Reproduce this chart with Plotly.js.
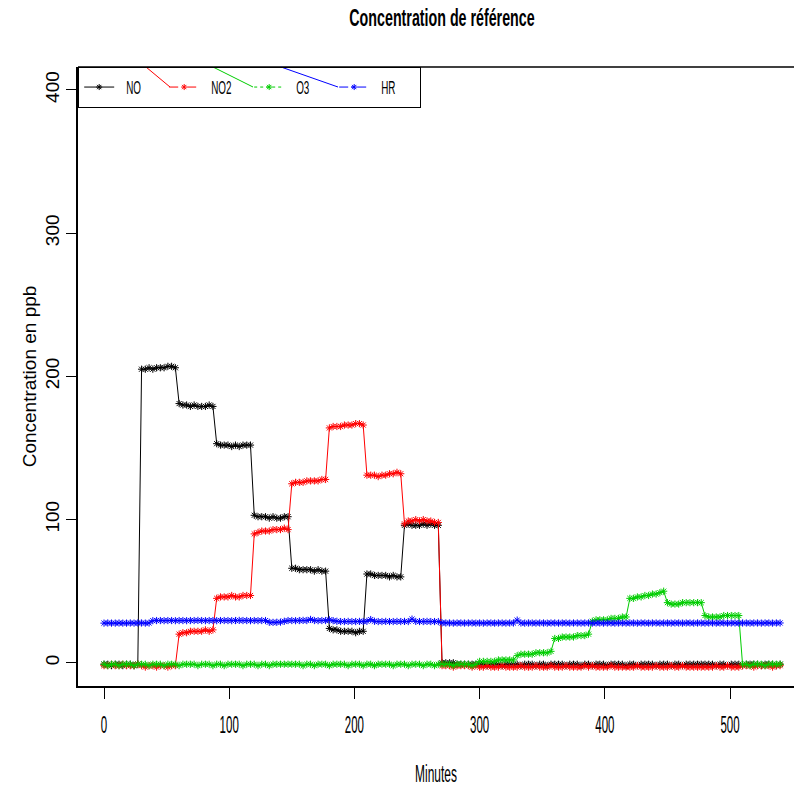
<!DOCTYPE html>
<html>
<head>
<meta charset="utf-8">
<script src="https://cdn.plot.ly/plotly-3.0.1.min.js"></script>
<style>
  html, body { margin: 0; padding: 0; background: #ffffff; }
  #chart { width: 794px; height: 788px; }
</style>
</head>
<body>
<div id="chart"></div>
<script>
// Sampling times (minutes)
const minutes = [
  0,3,6,9,12,15,18,21,24,27, 30,33,36,39,42,45,48,51,54,57,
  60,63,66,69,72,75,78,81,84,87, 90,93,96,99,102,105,108,111,114,117,
  120,123,126,129,132,135,138,141,144,147, 150,153,156,159,162,165,168,171,174,177,
  180,183,186,189,192,195,198,201,204,207, 210,213,216,219,222,225,228,231,234,237,
  240,243,246,249,252,255,258,261,264,267, 270,273,276,279,282,285,288,291,294,297,
  300,303,306,309,312,315,318,321,324,327, 330,333,336,339,342,345,348,351,354,357,
  360,363,366,369,372,375,378,381,384,387, 390,393,396,399,402,405,408,411,414,417,
  420,423,426,429,432,435,438,441,444,447, 450,453,456,459,462,465,468,471,474,477,
  480,483,486,489,492,495,498,501,504,507, 510,513,516,519,522,525,528,531,534,537,
  540
];

const NO = [
  -1,-1,-2,-1,-1,-2,-1,-1,-2,-1,
  205,205,206,205,206,206,206,207,207,206,
  181,180,180,179,180,179,179,179,180,179,
  153,152,152,152,151,152,151,152,152,152,
  103,102,102,102,101,102,101,101,102,102,
  66,66,65,65,65,65,64,65,64,64,
  24,23,23,22,22,22,22,21,22,22,
  62,62,61,61,61,61,60,61,60,60,
  96,97,96,96,96,97,96,97,96,96,
  0,0,0,0,-1,-1,-1,-1,-1,-1,
  -1,-1,-2,-1,-1,-1,-2,-1,-1,-1,
  -1,-2,-1,-1,-1,-2,-1,-1,-2,-1,
  -1,-1,-1,-2,-1,-1,-1,-2,-1,-1,
  -2,-1,-1,-1,-2,-1,-1,-1,-1,-2,
  -1,-1,-2,-1,-1,-1,-1,-2,-1,-1,
  -1,-2,-1,-1,-2,-1,-1,-1,-1,-1,
  -1,-1,-1,-2,-1,-1,-2,-1,-1,-1,
  -2,-1,-1,-1,-1,-2,-1,-1,-1,-2,
  -1
];

const NO2 = [
  -2,-2,-1,-2,-2,-1,-2,-2,-2,-1,
  -2,-3,-2,-2,-3,-2,-2,-3,-2,-2,
  20,21,21,22,22,22,22,23,22,23,
  45,46,46,46,47,46,46,47,47,47,
  90,91,92,92,92,93,93,93,94,93,
  125,126,126,126,127,127,127,127,128,128,
  164,165,165,165,166,166,166,167,167,166,
  131,131,131,130,131,131,132,132,133,132,
  97,99,99,100,99,100,99,99,98,98,
  -2,-2,-2,-3,-2,-2,-2,-2,-3,-2,
  -3,-3,-2,-3,-3,-3,-2,-3,-3,-3,
  -3,-2,-3,-3,-3,-2,-3,-3,-3,-2,
  -3,-3,-3,-2,-3,-3,-3,-3,-2,-3,
  -2,-3,-3,-3,-3,-2,-3,-3,-3,-3,
  -3,-3,-2,-3,-3,-3,-3,-2,-3,-3,
  -3,-2,-3,-3,-2,-3,-3,-3,-3,-3,
  -3,-3,-3,-2,-3,-3,-2,-3,-3,-3,
  -2,-2,-2,-3,-2,-2,-2,-2,-3,-2,
  -2
];

const O3 = [
  -1,-2,-1,-1,-2,-1,-1,-1,-2,-1,
  -1,-1,-2,-1,-1,-1,-2,-1,-1,-1,
  -2,-1,-1,-1,-1,-2,-1,-1,-1,-2,
  -1,-1,-2,-1,-1,-1,-1,-2,-1,-1,
  -1,-2,-1,-1,-2,-1,-1,-1,-1,-1,
  -1,-1,-1,-2,-1,-1,-2,-1,-1,-1,
  -2,-1,-1,-1,-1,-2,-1,-1,-1,-2,
  -1,-1,-2,-1,-1,-1,-1,-2,-1,-1,
  -1,-2,-1,-1,-1,-2,-1,-1,-2,-1,
  -1,-1,-1,-2,-1,-1,-1,-1,-2,-1,
  1,1,1,1,1,2,2,2,2,2,
  5,6,6,6,6,7,7,7,7,8,
  17,17,18,18,18,18,19,19,19,20,
  29,30,30,30,30,31,31,31,32,32,
  45,45,46,46,47,47,48,48,49,50,
  42,41,41,41,42,42,42,42,42,42,
  33,32,32,32,32,33,33,33,33,33,
  -1,-1,-2,-1,-1,-1,-2,-1,-1,-1,
  -1
];

const HR = [
  27.7,27.8,27.7,27.7,27.8,27.7,27.7,27.8,27.7,27.8,
  27.8,27.7,27.8,29.4,29.5,29.5,29.4,29.5,29.5,29.4,
  29.5,29.5,29.4,29.5,29.5,29.6,29.5,29.4,29.5,29.5,
  29.4,29.5,29.5,29.5,29.4,29.5,29.6,29.5,29.5,29.4,
  29.5,29.4,29.5,29.5,28.3,28.2,28.3,28.4,29.0,29.5,
  29.5,29.4,29.5,29.6,29.5,30.3,29.5,29.4,29.5,29.5,
  30.0,29.4,29.0,28.8,28.8,28.9,28.8,28.8,28.9,28.8,
  29.0,30.2,29.0,28.8,28.8,28.9,28.8,28.8,28.9,28.8,
  28.9,28.8,30.5,28.9,28.8,28.8,28.9,28.8,28.8,28.8,
  27.9,27.8,27.8,27.7,27.8,27.8,27.7,27.8,27.8,27.7,
  27.8,27.7,27.8,27.8,27.7,27.8,27.8,27.7,27.8,27.8,
  29.8,27.8,27.7,27.8,27.8,27.7,27.8,27.8,27.7,27.8,
  27.8,27.7,27.8,27.8,27.7,27.8,27.8,27.7,27.8,27.8,
  27.7,27.8,27.8,27.7,27.8,27.8,27.7,27.8,27.8,27.7,
  27.8,27.8,27.7,27.8,27.8,27.7,27.8,27.8,27.7,27.8,
  27.8,27.7,27.8,27.8,27.7,27.8,27.8,27.7,27.8,27.8,
  27.7,27.8,27.8,27.7,27.8,27.8,27.7,27.8,27.8,27.7,
  27.8,27.8,27.7,27.8,27.8,27.7,27.8,27.8,27.7,27.8,
  27.8
];

const seriesNames = ['NO', 'NO2', 'O3', 'HR'];
const seriesValues = [NO, NO2, O3, HR];
const seriesColors = ['#000000', '#ff0000', '#00cd00', '#0000ff'];
const legendDash = ['solid', 'dash', 'dot', 'dashdot'];

const xTicks = [0, 100, 200, 300, 400, 500];
const yTicks = [0, 100, 200, 300, 400];

const regular = '"Liberation Sans", Arial, sans-serif';

// Data traces: drawn with solid lines (as in the reference plot), not in legend
const dataTraces = seriesNames.map((name, i) => ({
  type: 'scatter',
  mode: 'lines+markers',
  name: name,
  legendgroup: name,
  showlegend: false,
  x: minutes,
  y: seriesValues[i],
  line: { color: seriesColors[i], width: 1 },
  marker: { color: seriesColors[i], symbol: 'asterisk-open', size: 6,
            line: { color: seriesColors[i], width: 1 } }
}));

// Legend entries: same series, shown with their legend line styles
const legendTraces = seriesNames.map((name, i) => ({
  type: 'scatter',
  mode: 'lines+markers',
  name: name,
  legendgroup: name,
  showlegend: true,
  x: [null],
  y: [null],
  line: { color: seriesColors[i], width: 1, dash: legendDash[i] },
  marker: { color: seriesColors[i], symbol: 'asterisk-open', size: 5,
            line: { color: seriesColors[i], width: 1 } }
}));

function px2x(p) { return (p - 78) / 716; }
function px2y(p) { return (686 - p) / 619; }

const artifactLines = [
  { c: '#ff0000', x0: 146, x1: 170 },
  { c: '#00cd00', x0: 213, x1: 253 },
  { c: '#0000ff', x0: 281, x1: 338 }
].map(d => ({
  type: 'line', xref: 'paper', yref: 'paper',
  x0: px2x(d.x0), y0: 1, x1: px2x(d.x1), y1: px2y(87),
  line: { color: d.c, width: 1 }, layer: 'above'
}));

const layout = {
  width: 794,
  height: 788,
  margin: { l: 78, r: 0, t: 67, b: 102, pad: 0 },
  paper_bgcolor: '#ffffff',
  plot_bgcolor: '#ffffff',
  showlegend: true,
  title: {
    text: 'Concentration de référence',
    font: { family: regular, size: 23, color: '#000000', weight: 'bold' },
    x: 442 / 794, xref: 'container', xanchor: 'center',
    y: 1 - 18 / 788, yref: 'container', yanchor: 'middle'
  },
  xaxis: {
    range: [-20.77, 551.1],
    tickmode: 'array', tickvals: xTicks, ticktext: xTicks.map(String),
    ticks: 'outside', ticklen: 11, tickwidth: 1, tickcolor: '#000000',
    showgrid: false, zeroline: false,
    showline: true, linecolor: '#000000', linewidth: 1.7, mirror: false,
    tickfont: { family: regular, size: 23, color: '#000000' },
    ticklabelstandoff: 7,
    title: { text: 'Minutes', font: { family: regular, size: 23, color: '#000000' }, standoff: 28 },
    automargin: false
  },
  yaxis: {
    range: [-16.2, 416],
    tickmode: 'array', tickvals: yTicks, ticktext: yTicks.map(String),
    ticks: 'outside', ticklen: 10, tickwidth: 1, tickcolor: '#000000',
    tickangle: -90,
    showgrid: false, zeroline: false,
    showline: true, linecolor: '#000000', linewidth: 1.7, mirror: false,
    tickfont: { family: regular, size: 19, color: '#000000' },
    ticklabelstandoff: 0,
    title: { text: 'Concentration en ppb', font: { family: regular, size: 19, color: '#000000' }, standoff: 0 },
    automargin: false
  },
  legend: {
    orientation: 'h',
    x: 0, y: 1, xref: 'paper', yref: 'paper', xanchor: 'left', yanchor: 'top',
    bgcolor: 'rgba(255,255,255,0)',
    bordercolor: '#000000', borderwidth: 1.2,
    font: { family: regular, size: 19, color: '#000000' },
    entrywidth: 40,
    itemwidth: 30,
    traceorder: 'normal'
  },
  shapes: [
    { type: 'line', xref: 'paper', yref: 'paper', x0: 0, x1: 1, y0: 1, y1: 1,
      line: { color: '#000000', width: 1.7 } }
  ].concat(artifactLines)
};

// Narrow the glyphs horizontally (the reference uses a condensed face)
function condense(root, selector, k, anchor, dx) {
  root.querySelectorAll(selector).forEach(el => {
    const bb = el.getBBox();
    const ox = anchor === 'left' ? bb.x : bb.x + bb.width / 2;
    const t = el.getAttribute('transform') || '';
    el.setAttribute('transform',
      t + ' translate(' + (ox + (dx || 0)) + ',0) scale(' + k + ',1) translate(' + (-ox) + ',0)');
  });
}

Plotly.newPlot('chart', dataTraces.concat(legendTraces), layout,
               { staticPlot: true, displayModeBar: false })
  .then(gd => {
    condense(gd, '.xtick text', 0.5, 'center');
    condense(gd, '.g-xtitle text', 0.52, 'center');
    condense(gd, '.g-gtitle text', 0.62, 'center');
    condense(gd, '.legendtext', 0.52, 'left', 7);
  });
</script>
</body>
</html>
